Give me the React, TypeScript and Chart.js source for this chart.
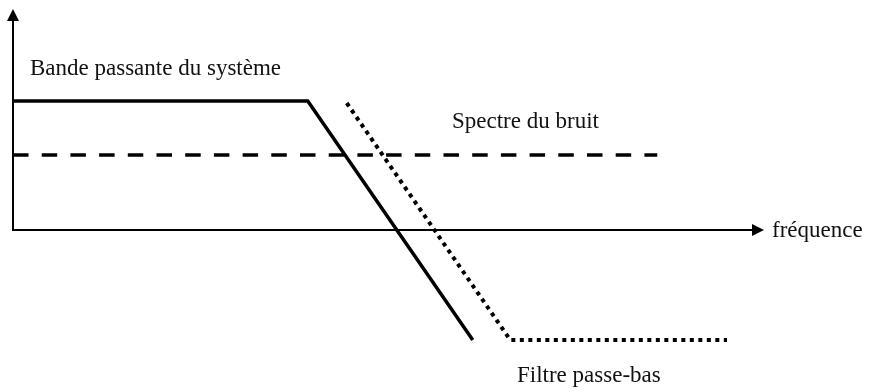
import React, { useEffect, useRef } from "react";
import { Chart, registerables } from "chart.js";

Chart.register(...registerables);

// System bandwidth (solid)
const systemX = [0, 39.3, 61.3];
const systemY = [12.9, 12.9, -11];
// Noise spectrum (dashed)
const noiseX = [0, 85.9];
const noiseY = [7.5, 7.5];
// Low-pass filter (dotted)
const filterX = [44.5, 66.3, 95.2];
const filterY = [12.7, -11, -11];

const labelSystem = "Bande passante du système";
const labelNoise = "Spectre du bruit";
const labelFilter = "Filtre passe-bas";
const labelAxis = "fréquence";

const toPts = (xs: number[], ys: number[]) => xs.map((x, i) => ({ x, y: ys[i] }));

const FONT = '23px "Liberation Serif", "Times New Roman", serif';

const decorPlugin = {
  id: "decor",
  beforeDatasetsDraw(chart: any) {
    const { ctx, chartArea, scales } = chart;
    const x0 = scales.x.getPixelForValue(0);
    const y0 = scales.y.getPixelForValue(0);
    ctx.save();
    ctx.strokeStyle = "#000";
    ctx.fillStyle = "#000";
    ctx.lineWidth = 2;
    ctx.setLineDash([]);
    // y axis
    ctx.beginPath();
    ctx.moveTo(x0, y0);
    ctx.lineTo(x0, chartArea.top + 8);
    ctx.stroke();
    ctx.beginPath();
    ctx.moveTo(x0, chartArea.top - 1);
    ctx.lineTo(x0 - 6, chartArea.top + 11);
    ctx.lineTo(x0 + 6, chartArea.top + 11);
    ctx.closePath();
    ctx.fill();
    // x axis
    ctx.beginPath();
    ctx.moveTo(x0 - 1, y0);
    ctx.lineTo(chartArea.right - 8, y0);
    ctx.stroke();
    ctx.beginPath();
    ctx.moveTo(chartArea.right + 1, y0);
    ctx.lineTo(chartArea.right - 11, y0 - 6);
    ctx.lineTo(chartArea.right - 11, y0 + 6);
    ctx.closePath();
    ctx.fill();
    ctx.restore();
  },
  afterDraw(chart: any) {
    const { ctx, scales } = chart;
    const y0 = scales.y.getPixelForValue(0);
    ctx.save();
    ctx.fillStyle = "#111";
    ctx.font = FONT;
    ctx.textAlign = "left";
    ctx.textBaseline = "alphabetic";
    ctx.fillText(labelSystem, 30, 75);
    ctx.fillText(labelNoise, 452, 128);
    ctx.fillText(labelFilter, 517, 382);
    ctx.fillText(labelAxis, 772, y0 + 7);
    ctx.restore();
  },
};

export default function App() {
  const ref = useRef<HTMLCanvasElement | null>(null);
  useEffect(() => {
    document.body.style.margin = "0";
    const canvas = ref.current!;
    const chart = new Chart(canvas, {
      type: "scatter",
      data: {
        datasets: [
          {
            label: labelSystem,
            data: toPts(systemX, systemY),
            showLine: true,
            borderColor: "#000",
            borderWidth: 3.5,
            pointRadius: 0,
            fill: false,
          },
          {
            label: labelNoise,
            data: toPts(noiseX, noiseY),
            showLine: true,
            borderColor: "#000",
            borderWidth: 3.5,
            borderDash: [15.5, 13.2],
            borderDashOffset: 0,
            pointRadius: 0,
            fill: false,
          },
          {
            label: labelFilter,
            data: toPts(filterX, filterY),
            showLine: true,
            borderColor: "#000",
            borderWidth: 4,
            borderDash: [4, 4.5],
            pointRadius: 0,
            fill: false,
          },
        ],
      },
      options: {
        responsive: false,
        animation: false,
        layout: { padding: { left: 13, right: 108, top: 10, bottom: 42 } },
        scales: {
          x: { type: "linear", min: 0, max: 100, display: false },
          y: { type: "linear", min: -12, max: 22, display: false },
        },
        plugins: {
          legend: { display: false },
          tooltip: { enabled: false },
        },
        elements: { line: { tension: 0, borderCapStyle: "butt", borderJoinStyle: "miter" } },
      } as any,
      plugins: [decorPlugin],
    });
    return () => chart.destroy();
  }, []);
  return (
    <div style={{ width: 871, height: 392, background: "#fff" }}>
      <canvas ref={ref} width={871} height={392} style={{ display: "block" }} />
    </div>
  );
}
